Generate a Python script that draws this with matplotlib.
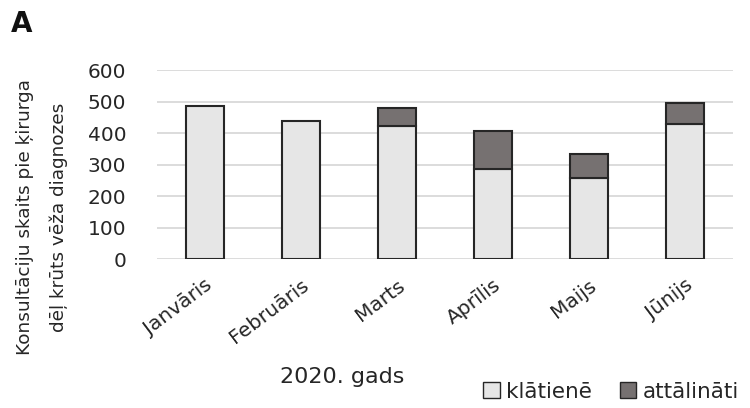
import numpy as np
import matplotlib
matplotlib.use('Agg')
import matplotlib.pyplot as plt
from matplotlib.patches import Patch

MONTHS = ['Janvāris', 'Februāris', 'Marts', 'Aprīlis', 'Maijs', 'Jūnijs']
IN_PERSON = [486, 438, 422, 286, 256, 428]
REMOTE = [0, 0, 59, 121, 77, 68]

IN_PERSON_COLOR = '#e6e6e6'
REMOTE_COLOR = '#767171'
EDGE_COLOR = '#262626'
TEXT_COLOR = '#262626'

plt.rcParams['font.family'] = ['DejaVu Sans']

fig = plt.figure(figsize=(7.5, 4.08), dpi=100)
ax = fig.add_axes([0.209, 0.365, 0.768, 0.463])

xPositions = np.arange(len(MONTHS))
ax.bar(xPositions, IN_PERSON, width=0.4, color=IN_PERSON_COLOR,
       edgecolor=EDGE_COLOR, linewidth=1.5, zorder=3)
remoteMask = np.array(REMOTE) > 0
ax.bar(xPositions[remoteMask], np.array(REMOTE)[remoteMask], width=0.4,
       bottom=np.array(IN_PERSON)[remoteMask], color=REMOTE_COLOR,
       edgecolor=EDGE_COLOR, linewidth=1.5, zorder=3)

ax.set_ylim(0, 600)
ax.set_xlim(-0.5, len(MONTHS) - 0.5)
ax.set_yticks(range(0, 601, 100))
ax.yaxis.grid(True, color='#d9d9d9', linewidth=1.3, zorder=0)
for spine in ax.spines.values():
    spine.set_visible(False)
ax.tick_params(axis='both', length=0, labelsize=14.5, colors=TEXT_COLOR)
ax.tick_params(axis='y', pad=22)
ax.tick_params(axis='x', pad=12)
ax.set_xticks(xPositions)
ax.set_xticklabels(MONTHS, rotation=37, ha='right', rotation_mode='anchor')

fig.text(0.056, 0.468, 'Konsultāciju skaits pie ķirurga\ndēļ krūts vēža diagnozes',
         rotation=90, ha='center', va='center', fontsize=13.3, color=TEXT_COLOR,
         linespacing=2.0)
fig.text(0.456, 0.075, '2020. gads', ha='center', va='center', fontsize=16,
         color=TEXT_COLOR)
fig.text(0.015, 0.94, 'A', ha='left', va='center', fontsize=20,
         fontweight='bold', color='#111111')

handles = [Patch(facecolor=IN_PERSON_COLOR, edgecolor=EDGE_COLOR, label='klātienē'),
           Patch(facecolor=REMOTE_COLOR, edgecolor=EDGE_COLOR, label='attālināti')]
fig.legend(handles=handles, loc='center right', bbox_to_anchor=(1.005, 0.04),
           ncol=2, frameon=False, fontsize=15.5, handlelength=0.75,
           handleheight=0.75, handletextpad=0.3, columnspacing=1.3,
           labelcolor=TEXT_COLOR, borderpad=0.2)

fig.savefig('out.png', dpi=100)
